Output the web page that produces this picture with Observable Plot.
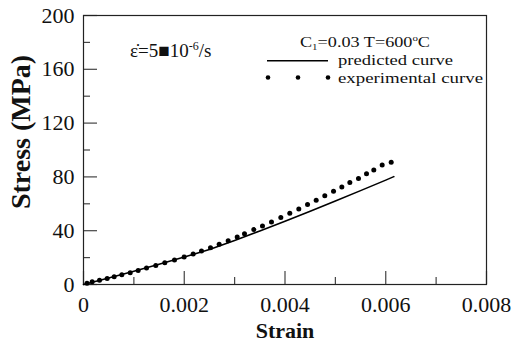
<!DOCTYPE html>
<html><head><meta charset="utf-8">
<script src="https://cdn.jsdelivr.net/npm/d3@7"></script>
<script src="https://cdn.jsdelivr.net/npm/@observablehq/plot@0.6"></script>
<style>
body{margin:0;background:#fff;}
#chart{position:relative;width:524px;height:343px;}
svg{font-family:"Liberation Serif","Times New Roman",serif;}
</style></head>
<body><div id="chart"></div>
<script>
// Predicted curve (strain, stress MPa)
const predStrain = [0, 0.0005, 0.001, 0.0015, 0.002, 0.0025, 0.003, 0.0035, 0.004, 0.0045, 0.005, 0.0055, 0.006, 0.00616];
const predStress = [0, 4.8, 9.9, 15.0, 20.4, 26.0, 32.8, 39.8, 47.0, 54.5, 62.0, 69.8, 77.6, 80.2];
// Experimental points
const expStrain = [0.00007, 0.000172, 0.000318, 0.00047, 0.000609, 0.000761, 0.000927, 0.001085, 0.001251, 0.001435, 0.001614, 0.001806, 0.001998, 0.002177, 0.002342, 0.002521, 0.002693, 0.002872, 0.003051, 0.003196, 0.003381, 0.003553, 0.003732, 0.003917, 0.004095, 0.004274, 0.004447, 0.004619, 0.00479, 0.004963, 0.005128, 0.005287, 0.005459, 0.005618, 0.005763, 0.005929, 0.006108];
const expStress = [1.0, 2.0, 3.2, 4.5, 5.7, 7.2, 8.7, 10.4, 12.2, 14.2, 16.2, 18.2, 20.4, 22.6, 24.9, 27.4, 29.9, 32.6, 35.3, 37.8, 40.8, 43.5, 46.5, 49.8, 53.0, 56.2, 59.5, 62.7, 65.9, 69.4, 72.4, 75.9, 78.9, 82.3, 85.1, 88.8, 90.8];
// Ticks
const xMajor = [0, 0.002, 0.004, 0.006, 0.008];
const xMinor = [0.001, 0.003, 0.005, 0.007];
const yMajor = [0, 40, 80, 120, 160, 200];
const yMinor = [20, 60, 100, 140, 180];
const xLabel = "Strain";
const yLabel = "Stress (MPa)";

const pred = predStrain.map((s, i) => ({strain: s, stress: predStress[i]}));
const exp = expStrain.map((s, i) => ({strain: s, stress: expStress[i]}));
const fmtX = d => d === 0 ? "0" : d3.format(".3f")(d);

const plot = Plot.plot({
  width: 524, height: 343,
  marginLeft: 83, marginRight: 38, marginTop: 15, marginBottom: 59,
  style: {fontFamily: '"Liberation Serif","Times New Roman",serif', background: "#fff", color: "#000"},
  x: {domain: [0, 0.008]},
  y: {domain: [0, 200]},
  marks: [
    Plot.axisX({ticks: xMajor, tickSize: -13, fill: "none", label: null, stroke: "#444", strokeWidth: 1.2}),
    Plot.axisX({ticks: xMinor, tickSize: -7, fill: "none", label: null, stroke: "#444", strokeWidth: 1.2}),
    Plot.axisX({ticks: xMajor, tickSize: 0, tickPadding: 12, tickFormat: fmtX, fontSize: 22, label: null, fill: "#111"}),
    Plot.axisY({ticks: yMajor, tickSize: -14, fill: "none", label: null, stroke: "#444", strokeWidth: 1.2}),
    Plot.axisY({ticks: yMinor, tickSize: -7, fill: "none", label: null, stroke: "#444", strokeWidth: 1.2}),
    Plot.axisY({ticks: yMajor, tickSize: 0, tickPadding: 9, fontSize: 22, label: null, fill: "#111"}),
    Plot.frame({stroke: "#222", strokeWidth: 1.2}),
    Plot.line(pred, {x: "strain", y: "stress", stroke: "#000", strokeWidth: 1.6}),
    Plot.dot(exp, {x: "strain", y: "stress", r: 2.5, fill: "#000", stroke: "none"}),
    Plot.text([xLabel], {frameAnchor: "bottom", textAnchor: "middle", lineAnchor: "middle", dy: 46, fontSize: 22, fontWeight: "bold", fill: "#111"}),
    Plot.text([yLabel], {frameAnchor: "left", textAnchor: "middle", lineAnchor: "middle", dx: -62, dy: -18, rotate: -90, fontSize: 28, fontWeight: "bold", fill: "#111"})
  ]
});
document.getElementById("chart").appendChild(plot);

// Legend and annotation
const svg = d3.select(plot);
const g = svg.append("g").attr("font-family", '"Liberation Serif","Times New Roman",serif').attr("fill", "#111").attr("text-anchor", "start");
const t1 = g.append("text").attr("x", 300).attr("y", 47).attr("font-size", 15)
  .attr("textLength", 130).attr("lengthAdjust", "spacingAndGlyphs");
t1.append("tspan").text("C");
t1.append("tspan").attr("font-size", 9).attr("dy", 3).text("1");
t1.append("tspan").attr("dy", -3).text("=0.03 T=600");
t1.append("tspan").attr("font-size", 9).attr("dy", -6).text("o");
t1.append("tspan").attr("dy", 6).text("C");
g.append("line").attr("x1", 267).attr("x2", 328).attr("y1", 60.7).attr("y2", 60.7).attr("stroke", "#000").attr("stroke-width", 1.5);
g.append("text").attr("x", 338).attr("y", 65).attr("font-size", 15)
  .attr("textLength", 115).attr("lengthAdjust", "spacingAndGlyphs").text("predicted curve");
[268, 298, 328].forEach(cx => g.append("circle").attr("cx", cx).attr("cy", 77.5).attr("r", 2.3).attr("fill", "#000"));
g.append("text").attr("x", 338).attr("y", 82.5).attr("font-size", 15)
  .attr("textLength", 145).attr("lengthAdjust", "spacingAndGlyphs").text("experimental curve");
const t2 = g.append("text").attr("x", 130).attr("y", 57).attr("font-size", 19);
t2.append("tspan").text("\u03B5\u0307=5\u25A010");
t2.append("tspan").attr("font-size", 12).attr("dy", -7).text("-6");
t2.append("tspan").attr("dy", 7).text("/s");
</script>
</body></html>
